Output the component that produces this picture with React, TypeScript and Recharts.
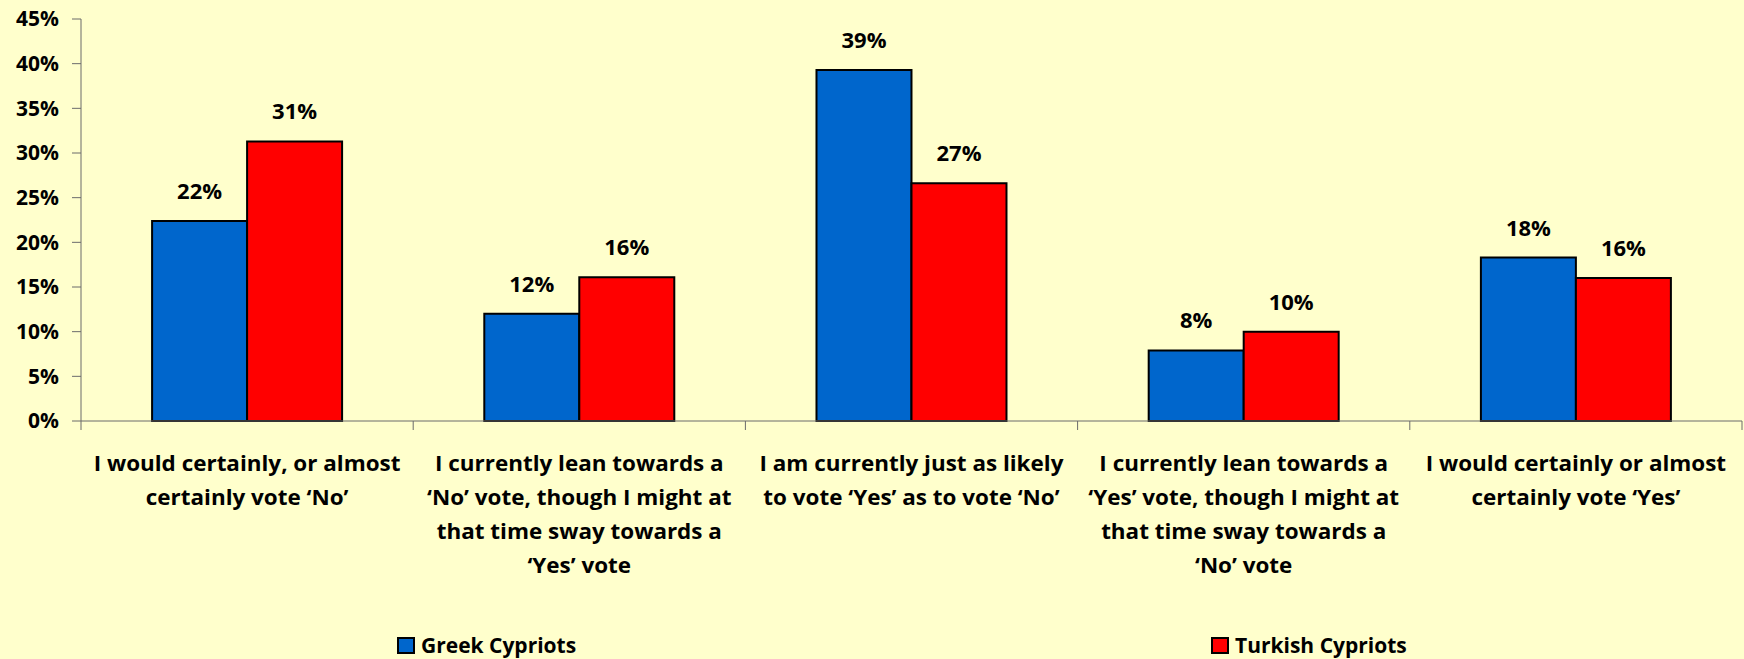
import React from 'react';
import { BarChart, Bar, XAxis, YAxis, LabelList, Legend } from 'recharts';

const categories = ['certainNo', 'leanNo', 'equal', 'leanYes', 'certainYes'];
const categoryLines: string[][] = [
  ['I would certainly, or almost', 'certainly vote ‘No’'],
  ['I currently lean towards a', '‘No’ vote, though I might at', 'that time sway towards a', '‘Yes’ vote'],
  ['I am currently just as likely', 'to vote ‘Yes’ as to vote ‘No’'],
  ['I currently lean towards a', '‘Yes’ vote, though I might at', 'that time sway towards a', '‘No’ vote'],
  ['I would certainly or almost', 'certainly vote ‘Yes’'],
];
const greekCypriots = [22.4, 12.0, 39.3, 7.9, 18.3];
const turkishCypriots = [31.3, 16.1, 26.6, 10.0, 16.0];
const yTicks = [0, 5, 10, 15, 20, 25, 30, 35, 40, 45];
const seriesNames = ['Greek Cypriots', 'Turkish Cypriots'];

const data = categories.map((c, i) => ({
  category: c,
  greek: greekCypriots[i],
  turkish: turkishCypriots[i],
}));

const FONT = '"Open Sans", Lato, sans-serif';
const AXIS_COLOR = '#6b6b6b';

const CategoryTick = (props: any) => {
  const { x, y, payload, index } = props;
  const half = payload && payload.offset ? payload.offset : 166;
  const idx = payload.index ?? index;
  const lines = categoryLines[idx] || [];
  const isLast = idx === categories.length - 1;
  const sx = 1.02;
  return (
    <g>
      <line x1={x - half} x2={x - half} y1={y} y2={y + 9} stroke={AXIS_COLOR} strokeWidth={1} />
      {isLast && <line x1={x + half} x2={x + half} y1={y} y2={y + 9} stroke={AXIS_COLOR} strokeWidth={1} />}
      <text
        x={x}
        y={y + 50}
        transform={`translate(${x} 0) scale(${sx} 1) translate(${-x} 0)`}
        textAnchor="middle"
        fontFamily={FONT}
        fontWeight={700}
        fontSize={22}
        fill="#000"
      >
        {lines.map((l, i) => (
          <tspan key={i} x={x} dy={i === 0 ? 0 : 34}>{l}</tspan>
        ))}
      </text>
    </g>
  );
};

const ValueLabel = (props: any) => {
  const { x, y, width, value } = props;
  return (
    <text x={x + width / 2} y={y - 22} textAnchor="middle" fontFamily={FONT} fontWeight={700} fontSize={22} fill="#000">
      {Math.round(value)}%
    </text>
  );
};

const LegendContent = () => {
  const items = [
    { name: seriesNames[0], color: '#0066CC', left: 397 },
    { name: seriesNames[1], color: '#FF0000', left: 1211 },
  ];
  return (
    <div style={{ position: 'relative', height: 30, width: 1744 }}>
      {items.map((it) => (
        <div key={it.name} style={{ position: 'absolute', left: it.left, top: 7, height: 19, display: 'flex', alignItems: 'center' }}>
          <div style={{ width: 14, height: 13, background: it.color, border: '2px solid #000', boxSizing: 'content-box', marginRight: 6 }} />
          <span style={{ fontFamily: FONT, fontWeight: 700, fontSize: 21, color: '#000', lineHeight: '19px' }}>{it.name}</span>
        </div>
      ))}
    </div>
  );
};

export default function App() {
  return (
    <div style={{ position: 'absolute', left: 0, top: 0, width: 1744, height: 659, background: '#FFFFCC' }}>
      <BarChart
        width={1744}
        height={659}
        data={data}
        margin={{ top: 19, right: 2, bottom: 0, left: 0 }}
        barCategoryGap="21.4%"
        barGap={0}
      >
        <YAxis
          width={81}
          domain={[0, 45]}
          ticks={yTicks}
          interval={0}
          tickFormatter={(v: number) => `${v}%`}
          axisLine={{ stroke: AXIS_COLOR, strokeWidth: 1 }}
          tickLine={{ stroke: AXIS_COLOR, strokeWidth: 1 }}
          tickSize={9}
          tickMargin={13}
          tick={{ fill: '#000', fontFamily: FONT, fontWeight: 700, fontSize: 21 }}
        />
        <XAxis
          dataKey="category"
          height={208}
          interval={0}
          tickLine={false}
          tickSize={0}
          tickMargin={0}
          axisLine={{ stroke: AXIS_COLOR, strokeWidth: 1 }}
          tick={<CategoryTick />}
        />
        <Legend verticalAlign="bottom" height={30} content={<LegendContent />} />
        <Bar dataKey="greek" name={seriesNames[0]} fill="#0066CC" stroke="#000" strokeWidth={2} isAnimationActive={false}>
          <LabelList dataKey="greek" content={<ValueLabel />} />
        </Bar>
        <Bar dataKey="turkish" name={seriesNames[1]} fill="#FF0000" stroke="#000" strokeWidth={2} isAnimationActive={false}>
          <LabelList dataKey="turkish" content={<ValueLabel />} />
        </Bar>
      </BarChart>
    </div>
  );
}
